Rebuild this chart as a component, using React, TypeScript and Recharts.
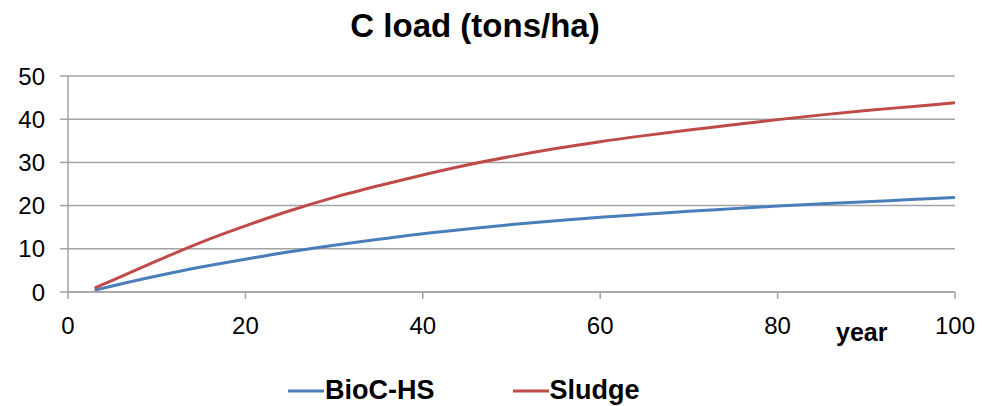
import { LineChart, Line, XAxis, YAxis, CartesianGrid } from 'recharts';

const years = [3, 5, 10, 15, 20, 25, 30, 35, 40, 45, 50, 55, 60, 65, 70, 75, 80, 85, 90, 95, 100];
const biocHs = [0.4, 1.4, 3.7, 5.8, 7.6, 9.3, 10.8, 12.2, 13.5, 14.6, 15.6, 16.5, 17.3, 18.0, 18.7, 19.3, 19.9, 20.4, 20.9, 21.4, 21.9];
const sludge = [0.9, 2.7, 7.2, 11.5, 15.3, 18.8, 21.9, 24.6, 27.1, 29.4, 31.4, 33.2, 34.8, 36.2, 37.5, 38.7, 39.9, 41.0, 42.0, 42.9, 43.8];
const xTicks = [0, 20, 40, 60, 80, 100];
const yTicks = [0, 10, 20, 30, 40, 50];

const BLUE = '#4a7ebb';
const RED = '#be4b48';
const GRID = '#a3a3a3';
const FONT = '"Liberation Sans", Arial, sans-serif';

const data = years.map((y, i) => ({ year: y, bioc: biocHs[i], sludge: sludge[i] }));

export default function App() {
  return (
    <div style={{ position: 'absolute', left: 0, top: 0, width: 982, height: 406, background: '#fff', fontFamily: FONT }}>
      {/* title */}
      <div style={{ position: 'absolute', left: 0, width: 950, top: 7, textAlign: 'center', fontSize: 33, fontWeight: 700, color: '#000' }}>
        C load (tons/ha)
      </div>
      <LineChart width={982} height={406} data={data} margin={{ top: 76, right: 27, left: 0, bottom: 74 }}>
        <CartesianGrid vertical={false} stroke={GRID} strokeWidth={1.5} />
        <XAxis
          dataKey="year"
          type="number"
          domain={[0, 100]}
          ticks={xTicks}
          height={40}
          stroke={GRID}
          strokeWidth={1.5}
          tickSize={7}
          tickMargin={18}
          tick={{ fontSize: 24, fill: '#000', fontFamily: FONT }}
        />
        <YAxis
          type="number"
          domain={[0, 50]}
          ticks={yTicks}
          width={68}
          stroke={GRID}
          strokeWidth={1.5}
          tickSize={8}
          tickMargin={15}
          tick={{ fontSize: 24, fill: '#000', fontFamily: FONT }}
        />
        <Line type="monotone" dataKey="bioc" stroke={BLUE} strokeWidth={3} dot={false} isAnimationActive={false} />
        <Line type="monotone" dataKey="sludge" stroke={RED} strokeWidth={3} dot={false} isAnimationActive={false} />
      </LineChart>
      {/* axis title */}
      <div style={{ position: 'absolute', left: 836, top: 318, fontSize: 25, fontWeight: 700, color: '#000' }}>year</div>
      {/* legend */}
      <div style={{ position: 'absolute', left: 288, top: 375, display: 'flex', alignItems: 'center', fontSize: 27, fontWeight: 700, color: '#000' }}>
        <svg width={36} height={6} style={{ marginRight: 1 }}>
          <line x1={0} y1={3} x2={36} y2={3} stroke={BLUE} strokeWidth={3} />
        </svg>
        <span>BioC-HS</span>
        <svg width={36} height={6} style={{ marginLeft: 78, marginRight: 1 }}>
          <line x1={0} y1={3} x2={36} y2={3} stroke={RED} strokeWidth={3} />
        </svg>
        <span>Sludge</span>
      </div>
    </div>
  );
}
